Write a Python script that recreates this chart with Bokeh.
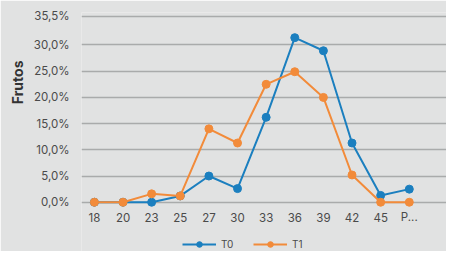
from bokeh.plotting import figure
from bokeh.models import Range1d, FixedTicker, Legend, LegendItem, Title
from bokeh.core.properties import value
from bokeh.embed import file_html
from bokeh.resources import INLINE

categories = ["18", "20", "23", "25", "27", "30", "33", "36", "39", "42", "45", "P..."]
t0 = [0, 0, 0, 1.2, 5.0, 2.6, 16.2, 31.4, 28.9, 11.3, 1.3, 2.5]
t1 = [0, 0, 1.6, 1.2, 14.0, 11.3, 22.5, 24.9, 20.0, 5.2, 0, 0]
series_names = ["T0", "T1"]
y_ticks = [0, 5, 10, 15, 20, 25, 30, 35.5]
y_labels = ["0,0%", "5,0%", "10,0%", "15,0%", "20,0%", "25,0%", "30,0%", "35,5%"]

BLUE = "#1b7fbf"
ORANGE = "#f28b3a"
BG = "#e1e2e2"
FONT = "Inter"
TXT = "#4a4a4a"

xs = list(range(len(categories)))
zeros = [0] * len(categories)

p = figure(width=446, height=251, output_backend="svg", toolbar_location=None,
           x_range=Range1d(-0.45, 12.3), y_range=Range1d(-9.4, 36.2),
           min_border_left=81, min_border_right=0, min_border_top=12, min_border_bottom=0)
p.background_fill_color = BG
p.border_fill_color = BG
p.outline_line_color = None

p.xaxis.visible = False
p.xgrid.grid_line_color = None
p.ygrid.grid_line_color = "#a9abab"
p.ygrid.grid_line_width = 1.5
p.yaxis.ticker = FixedTicker(ticks=y_ticks)
p.yaxis.major_label_overrides = {t: l for t, l in zip(y_ticks, y_labels)}
ax = p.yaxis[0]
ax.axis_line_color = None
ax.major_tick_line_color = None
ax.minor_tick_line_color = None
ax.major_label_text_font = FONT
ax.major_label_text_font_size = "11.5px"
ax.major_label_text_color = TXT
ax.major_label_standoff = 6

p.add_layout(Title(text="Frutos", align="right", offset=48, text_font=FONT,
                   text_font_size="14px", text_font_style="bold",
                   text_color="#333333", standoff=10), "left")

# category labels under the zero line
p.text(x=xs, y=zeros, text=categories, y_offset=15, text_align="center",
       text_baseline="middle", text_font=value(FONT), text_font_size="11.5px",
       text_color=TXT)

l0 = p.line(xs, t0, line_color=BLUE, line_width=2)
m0 = p.scatter(xs, t0, size=8, fill_color=BLUE, line_color=BLUE)
l1 = p.line(xs, t1, line_color=ORANGE, line_width=2)
m1 = p.scatter(xs, t1, size=8, fill_color=ORANGE, line_color=ORANGE)

legend = Legend(items=[LegendItem(label=series_names[0], renderers=[l0, m0]),
                       LegendItem(label=series_names[1], renderers=[l1, m1])],
                orientation="horizontal", location=(101, 0),
                background_fill_alpha=0, border_line_color=None,
                label_text_font=FONT, label_text_font_size="10px",
                label_text_color=TXT, glyph_width=34, glyph_height=14,
                spacing=12, margin=0, padding=2, label_standoff=5)
p.add_layout(legend, "center")

open("out.html", "w").write(file_html(p, INLINE))
